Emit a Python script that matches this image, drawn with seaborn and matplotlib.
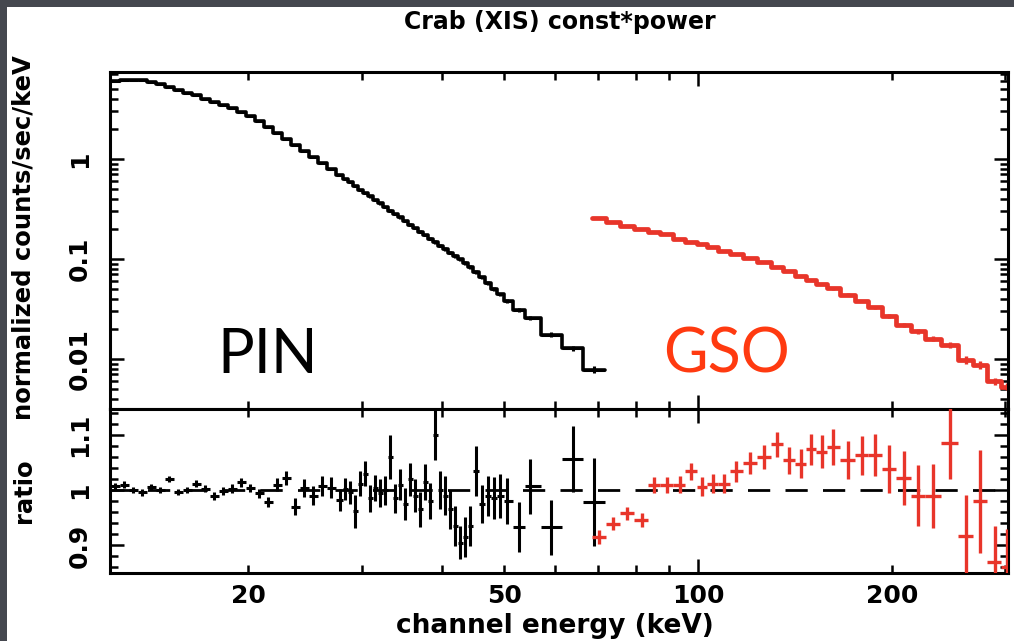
import numpy as np
import matplotlib
matplotlib.use("Agg")
import matplotlib.pyplot as plt
import matplotlib.ticker as mticker
from matplotlib.patches import Rectangle
import seaborn as sns

TITLE = "Crab (XIS) const*power"
Y1_LABEL = "normalized counts/sec/keV"
Y2_LABEL = "ratio"
X_LABEL = "channel energy (keV)"

pin_energy = [12.43, 12.84, 13.26, 13.69, 14.14, 14.60, 15.08, 15.57, 16.08, 16.61, 17.15, 17.71, 18.29,
              18.89, 19.51, 20.14, 20.80, 21.48, 22.18, 22.91, 23.66, 24.43, 25.23, 26.06, 26.91, 27.79,
              28.29, 28.80, 29.32, 29.85, 30.38, 30.93, 31.49, 32.06, 32.63, 33.22, 33.82, 34.44, 35.06,
              35.69, 36.33, 36.99, 37.65, 38.33, 39.03, 39.73, 40.45, 41.18, 41.92, 42.67, 43.45, 44.23,
              45.19, 46.17, 47.17, 48.19, 49.24, 50.48, 52.70, 54.82, 59.09, 63.91, 68.91]
pin_flux = [6.03, 6.12, 6.17, 6.10, 5.89, 5.56, 5.28, 4.95, 4.62, 4.32, 3.98, 3.72, 3.47,
            3.20, 2.92, 2.66, 2.40, 2.09, 1.82, 1.585, 1.38, 1.20, 1.047, 0.912, 0.794, 0.684,
            0.631, 0.582, 0.537, 0.495, 0.457, 0.422, 0.389, 0.359, 0.331, 0.305, 0.282, 0.260, 0.240,
            0.221, 0.204, 0.188, 0.174, 0.160, 0.148, 0.136, 0.126, 0.116, 0.107, 0.0989, 0.0912, 0.0832,
            0.0741, 0.0653, 0.0575, 0.0501, 0.0442, 0.0380, 0.0309, 0.0257, 0.0175, 0.0128, 0.0078]
pin_ratio = [1.007, 1.010, 1.000, 0.996, 1.006, 1.000, 1.020, 0.997, 1.000, 1.012, 1.003, 0.990, 0.998,
             1.003, 1.014, 1.004, 0.994, 0.978, 1.010, 1.022, 0.970, 1.004, 0.990, 1.008, 1.004, 0.982,
             1.002, 0.996, 0.962, 1.012, 1.030, 0.985, 1.004, 0.995, 1.000, 1.060, 0.985, 1.010, 0.975,
             1.020, 0.990, 0.965, 1.015, 0.980, 1.100, 1.000, 0.990, 0.965, 0.935, 0.905, 0.915, 0.935,
             1.035, 0.975, 0.990, 0.985, 0.990, 0.980, 0.933, 1.007, 0.933, 1.056, 0.978]
pin_ratio_err = [0.006, 0.006, 0.006, 0.006, 0.006, 0.006, 0.006, 0.006, 0.006, 0.007, 0.007, 0.007, 0.007,
                 0.008, 0.008, 0.008, 0.009, 0.009, 0.012, 0.013, 0.015, 0.016, 0.017, 0.018, 0.019, 0.020,
                 0.020, 0.021, 0.030, 0.022, 0.023, 0.024, 0.024, 0.025, 0.026, 0.040, 0.027, 0.028, 0.029,
                 0.030, 0.030, 0.031, 0.032, 0.033, 0.045, 0.034, 0.035, 0.036, 0.037, 0.030, 0.036, 0.037,
                 0.045, 0.035, 0.036, 0.038, 0.040, 0.042, 0.045, 0.050, 0.050, 0.060, 0.080]

gso_energy = [70.2, 73.8, 77.5, 81.8, 85.4, 89.4, 93.7, 97.5, 101.4, 105.4, 109.7, 114.5, 120.3, 126.6,
              132.6, 138.4, 144.4, 149.7, 155.7, 162.0, 170.9, 179.7, 188.2, 197.9, 208.7, 219.5, 231.6,
              246.0, 260.5, 273.9, 289.0, 301.8]
gso_flux = [0.255, 0.232, 0.215, 0.198, 0.188, 0.176, 0.160, 0.149, 0.140, 0.131, 0.121, 0.112, 0.102,
            0.093, 0.083, 0.076, 0.068, 0.062, 0.056, 0.051, 0.044, 0.038, 0.033, 0.027, 0.022, 0.019,
            0.016, 0.0138, 0.0098, 0.0088, 0.0060, 0.0053]
gso_ratio = [0.915, 0.939, 0.958, 0.946, 1.009, 1.009, 1.010, 1.034, 1.006, 1.012, 1.012, 1.034, 1.050,
             1.060, 1.083, 1.054, 1.048, 1.074, 1.070, 1.078, 1.055, 1.063, 1.063, 1.038, 1.022, 0.990,
             0.990, 1.085, 0.917, 0.980, 0.870, 0.860]
gso_ratio_err = [0.012, 0.012, 0.012, 0.012, 0.014, 0.015, 0.015, 0.016, 0.017, 0.018, 0.018, 0.019, 0.020,
                 0.022, 0.023, 0.025, 0.026, 0.028, 0.030, 0.032, 0.034, 0.036, 0.038, 0.043, 0.049, 0.055,
                 0.058, 0.064, 0.075, 0.093, 0.065, 0.070]

x_label_ticks = [20, 50, 100, 200]
y1_label_ticks = [0.01, 0.1, 1]
y2_label_ticks = [0.9, 1.0, 1.1]

BLACK = "#000000"
RED = "#e8352a"
GSO_TEXT = "#ff3a10"

sns.set_theme(style="ticks")
plt.rcParams["font.family"] = ["DejaVu Sans"]
plt.rcParams["font.weight"] = "bold"


def edges(c):
    c = np.asarray(c, float)
    mids = np.sqrt(c[:-1] * c[1:])
    lo = np.r_[c[0] ** 2 / mids[0], mids]
    hi = np.r_[mids, c[-1] ** 2 / mids[-1]]
    return lo, hi


fig = plt.figure(figsize=(10.14, 6.41), dpi=100)
fig.patch.set_facecolor("#45484f")
fig.add_artist(Rectangle((7 / 1014, 0), 1, 1 - 7 / 641, transform=fig.transFigure,
                         facecolor="white", edgecolor="none", zorder=0))

left, width = 110 / 1014, 898 / 1014
ax1 = fig.add_axes([left, 1 - 409 / 641, width, 337 / 641])
ax2 = fig.add_axes([left, 1 - 573 / 641, width, 164 / 641])

for energy, flux, ratio, rerr, col, lw_step, lw_err in [
    (pin_energy, pin_flux, pin_ratio, pin_ratio_err, BLACK, 2.6, 2.2),
    (gso_energy, gso_flux, gso_ratio, gso_ratio_err, RED, 3.4, 2.4),
]:
    e = np.asarray(energy)
    f = np.asarray(flux)
    r = np.asarray(ratio)
    re = np.asarray(rerr)
    lo, hi = edges(e)
    # model-like histogram through the data
    sns.lineplot(x=np.r_[lo, hi[-1]], y=np.r_[f, f[-1]], drawstyle="steps-post",
                 color=col, lw=lw_step, ax=ax1, legend=False, estimator=None, sort=False)
    ax1.errorbar(e, f, xerr=[e - lo, hi - e], yerr=f * re / r, fmt="none",
                 ecolor=col, elinewidth=lw_err, capsize=0)
    ax2.errorbar(e, r, xerr=[e - lo, hi - e], yerr=re, fmt="none",
                 ecolor=col, elinewidth=lw_err, capsize=0, zorder=3)

ax2.axhline(1.0, color=BLACK, lw=2.0, ls=(0, (8, 5.5)), zorder=2)

for ax in (ax1, ax2):
    ax.set_xscale("log")
    ax.set_xlim(12.2, 303)
    ax.xaxis.set_major_locator(mticker.FixedLocator([10, 100, 1000]))
    ax.xaxis.set_minor_locator(mticker.FixedLocator([20, 30, 40, 50, 60, 70, 80, 90, 200, 300]))
    ax.tick_params(which="both", direction="in", top=True, right=True, width=1.8, color=BLACK,
                   labelsize=18, labelcolor=BLACK)
    ax.tick_params(which="major", length=10)
    ax.tick_params(which="minor", length=5.5)
    ax.tick_params(axis="x", which="both", pad=8)
    ax.tick_params(axis="y", which="both", pad=13, labelrotation=90)
    for s in ax.spines.values():
        s.set_linewidth(2.2)
        s.set_color(BLACK)
    ax.set_facecolor("white")

ax1.xaxis.set_major_formatter(mticker.NullFormatter())
ax1.xaxis.set_minor_formatter(mticker.NullFormatter())
ax2.xaxis.set_major_formatter(mticker.FuncFormatter(
    lambda v, p: f"{v:g}" if round(v) in x_label_ticks else ""))
ax2.xaxis.set_minor_formatter(mticker.FuncFormatter(
    lambda v, p: f"{v:g}" if round(v) in x_label_ticks else ""))

ax1.set_yscale("log")
ax1.set_ylim(0.00316, 7.41)
ax1.yaxis.set_major_locator(mticker.FixedLocator(y1_label_ticks))
ax1.yaxis.set_minor_locator(mticker.LogLocator(base=10, subs=np.arange(2, 10), numticks=20))
ax1.yaxis.set_major_formatter(mticker.FuncFormatter(lambda v, p: f"{v:g}"))
ax1.yaxis.set_minor_formatter(mticker.NullFormatter())

ax2.set_ylim(0.85, 1.147)
ax2.yaxis.set_major_locator(mticker.FixedLocator(y2_label_ticks))
ax2.yaxis.set_minor_locator(mticker.MultipleLocator(0.02))
ax2.yaxis.set_major_formatter(mticker.FuncFormatter(lambda v, p: f"{v:g}"))

for ax in (ax1, ax2):
    for t in ax.get_yticklabels():
        t.set_verticalalignment("center")

ax1.set_ylabel(Y1_LABEL, fontsize=17.5, color=BLACK, va="center", fontweight="bold")
ax1.yaxis.set_label_coords(-0.096, 0.51)
ax2.set_ylabel(Y2_LABEL, fontsize=17.5, color=BLACK, va="center", fontweight="bold")
ax2.yaxis.set_label_coords(-0.096, 0.5)
ax2.set_xlabel(X_LABEL, fontsize=19, color=BLACK, va="center", fontweight="bold")
ax2.xaxis.set_label_coords(0.495, -0.323)
ax1.set_xlabel("")

fig.text(560 / 1014, 1 - 22 / 641, TITLE, ha="center", va="center", fontsize=17,
         color=BLACK, fontweight="bold")

ax1.text(0.176, 0.16, "PIN", transform=ax1.transAxes, ha="center", va="center",
         fontsize=44, color=BLACK, family=["Lato", "DejaVu Sans"], fontweight="normal")
ax1.text(0.687, 0.16, "GSO", transform=ax1.transAxes, ha="center", va="center",
         fontsize=44, color=GSO_TEXT, family=["Lato", "DejaVu Sans"], fontweight="normal")

fig.savefig("out.png", dpi=100, facecolor=fig.get_facecolor())
